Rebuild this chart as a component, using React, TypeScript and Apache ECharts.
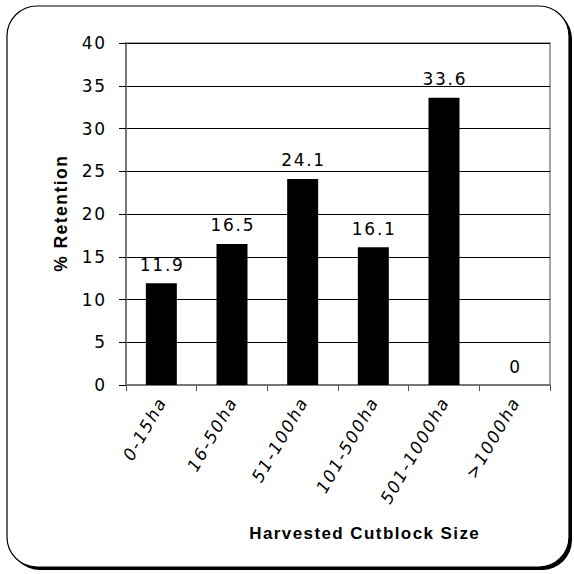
import React, { useEffect, useRef } from "react";
import * as echarts from "echarts";

const categories = ["0-15ha", "16-50ha", "51-100ha", "101-500ha", "501-1000ha", ">1000ha"];
const retention = [11.9, 16.5, 24.1, 16.1, 33.6, 0];
const yTitle = "% Retention";
const xTitle = "Harvested Cutblock Size";

const spaced = (s: string) => String(s).split("").join("\u200A");

export default function App() {
  const ref = useRef<HTMLDivElement>(null);
  useEffect(() => {
    if (!ref.current) return;
    const chart = echarts.init(ref.current, null, { renderer: "svg" });
    const font = "'DejaVu Sans', sans-serif";
    const tfont = "'Liberation Sans', Arial, sans-serif";
    chart.setOption({
      animation: false,
      backgroundColor: "#fff",
      graphic: [
        { type: "rect", z: -10, shape: { x: 10, y: 9, width: 562, height: 561, r: 30 }, style: { fill: "#000" } },
        { type: "rect", z: -9, shape: { x: 7, y: 6, width: 562, height: 561, r: 30 }, style: { fill: "#fff", stroke: "#000", lineWidth: 1.2 } },
        {
          type: "text", z: 10, x: 364, y: 533,
          style: { text: spaced(xTitle), font: "bold 17px " + tfont, fill: "#000", align: "center", verticalAlign: "middle" }
        }
      ],
      grid: { left: 126, right: 24, top: 43, bottom: 189, show: true, borderColor: "#888", borderWidth: 1.5, backgroundColor: "transparent" },
      xAxis: {
        type: "category",
        data: categories,
        axisLine: { lineStyle: { color: "#777", width: 2 } },
        axisTick: { show: true, length: 6, lineStyle: { color: "#555" } },
        axisLabel: { rotate: 60, fontSize: 17, fontStyle: "italic", fontFamily: font, color: "#000", margin: 15, interval: 0, formatter: (v: string) => spaced(v) },
        splitLine: { show: false }
      },
      yAxis: {
        type: "value",
        min: 0,
        max: 40,
        interval: 5,
        name: spaced(yTitle),
        nameLocation: "middle",
        nameGap: 56,
        nameTextStyle: { fontSize: 17.5, fontWeight: "bold", fontFamily: tfont, color: "#000" },
        axisLine: { show: true, lineStyle: { color: "#777", width: 2 } },
        axisTick: { show: true, length: 7, lineStyle: { color: "#000" } },
        axisLabel: { fontSize: 17, fontFamily: font, color: "#000", margin: 21, formatter: (v: number) => spaced(String(v)) },
        splitLine: { show: true, lineStyle: { color: "#000", width: 1 } }
      },
      series: [
        {
          type: "bar",
          data: retention,
          barWidth: 31,
          itemStyle: { color: "#000" },
          label: { show: true, position: "top", distance: 10, fontSize: 17, fontFamily: font, color: "#000", formatter: (p: any) => spaced(String(p.value)) }
        }
      ]
    });
    return () => chart.dispose();
  }, []);
  return <div ref={ref} style={{ position: "absolute", left: 0, top: 0, width: 574, height: 574 }} />;
}
